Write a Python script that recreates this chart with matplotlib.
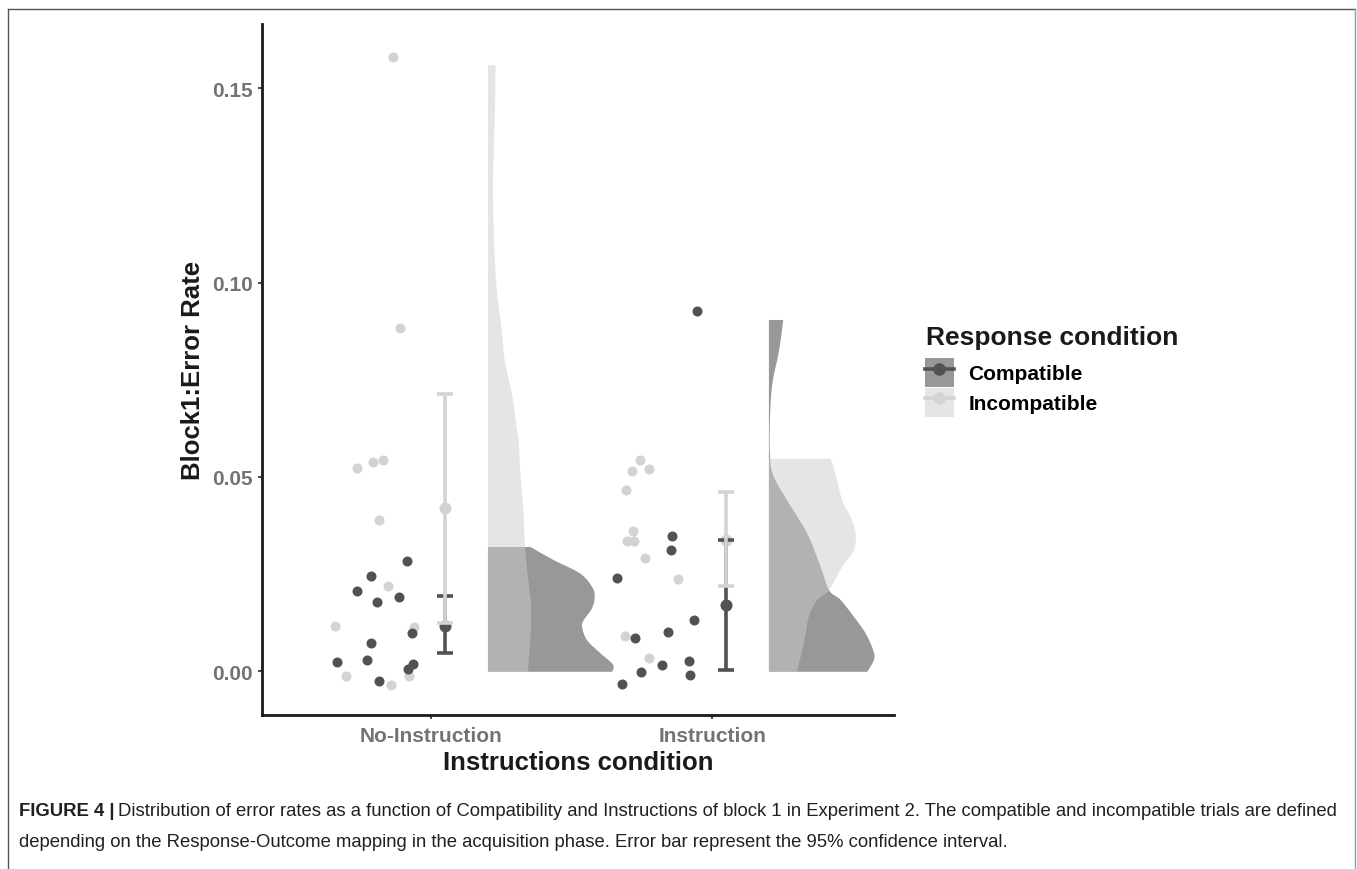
import numpy as np
import matplotlib
matplotlib.use('Agg')
import matplotlib.pyplot as plt
from matplotlib.patches import Patch
from matplotlib.lines import Line2D

plt.rcParams['font.family'] = ['Liberation Sans', 'DejaVu Sans']

# ---- datos ----
categories = ['No-Instruction', 'Instruction']
groups = ['Compatible', 'Incompatible']

# puntos individuales (tasa de error) y su jitter horizontal (unidades de categoria)
ni_comp_y = [0.0283, 0.0244, 0.0207, 0.0179, 0.0191, 0.0099, 0.0073, 0.0025, 0.0028, 0.0020, 0.0005, -0.0026]
ni_comp_dx = [-0.085, -0.214, -0.264, -0.192, -0.114, -0.069, -0.214, -0.337, -0.228, -0.064, -0.083, -0.185]
ni_inc_y = [0.158, 0.0884, 0.0523, 0.0539, 0.0544, 0.039, 0.022, 0.0117, 0.0113, -0.0011, -0.0034, -0.0013]
ni_inc_dx = [-0.137, -0.111, -0.263, -0.206, -0.172, -0.186, -0.153, -0.342, -0.060, -0.305, -0.142, -0.078]
in_comp_y = [0.0927, 0.0347, 0.0313, 0.0239, 0.0132, 0.0101, 0.0086, 0.0027, 0.0015, -0.0003, -0.0009, -0.0033]
in_comp_dx = [-0.053, -0.142, -0.147, -0.338, -0.065, -0.159, -0.276, -0.083, -0.178, -0.254, -0.080, -0.320]
in_inc_y = [0.0543, 0.0515, 0.0521, 0.0467, 0.0362, 0.0336, 0.0336, 0.0292, 0.0237, 0.0092, 0.0033]
in_inc_dx = [-0.256, -0.287, -0.226, -0.307, -0.281, -0.305, -0.279, -0.240, -0.123, -0.310, -0.226]

# medias e intervalos de confianza 95%
comp_mean = [0.0116, 0.0171]
comp_lo = [0.0047, 0.0003]
comp_hi = [0.0193, 0.0337]
inc_mean = [0.0420, 0.0338]
inc_lo = [0.0123, 0.0219]
inc_hi = [0.0714, 0.0460]

# perfiles de densidad (half violin): nivel de error y ancho
ni_comp_vy = [0, 0.0009, 0.0022, 0.0048, 0.0082, 0.0116, 0.0133, 0.0163, 0.0193, 0.0219, 0.0253, 0.0287, 0.0321]
ni_comp_vw = [0.441, 0.447, 0.441, 0.400, 0.352, 0.335, 0.341, 0.370, 0.380, 0.370, 0.328, 0.235, 0.151]
ni_inc_vy = [0, 0.0067, 0.0116, 0.018, 0.0202, 0.032, 0.041, 0.0459, 0.0526, 0.0587, 0.064, 0.0715,
             0.08, 0.087, 0.098, 0.105, 0.115, 0.125, 0.135, 0.145, 0.156]
ni_inc_vw = [0.142, 0.149, 0.153, 0.153, 0.149, 0.132, 0.127, 0.121, 0.114, 0.110, 0.100, 0.085,
             0.060, 0.050, 0.032, 0.025, 0.020, 0.018, 0.021, 0.025, 0.027]
in_comp_vy = [0, 0.0031, 0.0056, 0.0099, 0.0142, 0.0185, 0.021, 0.027, 0.0356, 0.0441, 0.0501, 0.0552,
              0.0655, 0.074, 0.0826, 0.0905]
in_comp_vw = [0.350, 0.374, 0.371, 0.344, 0.302, 0.255, 0.214, 0.184, 0.136, 0.065, 0.018, 0.004,
              0.004, 0.012, 0.036, 0.051]
in_inc_vy = [0, 0.0056, 0.0099, 0.0142, 0.0185, 0.021, 0.027, 0.0313, 0.0356, 0.0398, 0.0441, 0.0509, 0.0548]
in_inc_vw = [0.099, 0.119, 0.131, 0.142, 0.172, 0.214, 0.261, 0.302, 0.309, 0.291, 0.261, 0.237, 0.220]

caption_bold = 'FIGURE 4 |'
caption_1 = ('Distribution of error rates as a function of Compatibility and Instructions of block 1 in '
             'Experiment 2. The compatible and incompatible trials are defined')
caption_2 = ('depending on the Response-Outcome mapping in the acquisition phase. Error bar represent the '
             '95% confidence interval.')

# colores
dark = '#525252'
light = '#d3d3d3'
fill_dark = '#333333'
fill_light = '#cdcdcd'


def smooth(y, w):
    # curva suave (Catmull-Rom) entre los puntos leidos
    pts = np.column_stack([np.asarray(y, float), np.asarray(w, float)])
    p = np.vstack([pts[0], pts, pts[-1]])
    out = []
    t = np.linspace(0, 1, 20, endpoint=False)[:, None]
    for i in range(1, len(p) - 2):
        p0, p1, p2, p3 = p[i - 1], p[i], p[i + 1], p[i + 2]
        seg = 0.5 * ((2 * p1) + (-p0 + p2) * t + (2 * p0 - 5 * p1 + 4 * p2 - p3) * t ** 2
                     + (-p0 + 3 * p1 - 3 * p2 + p3) * t ** 3)
        out.append(seg)
    out.append(pts[-1][None, :])
    out = np.vstack(out)
    return out[:, 0], np.clip(out[:, 1], 0, None)


W, H = 1357, 870
fig = plt.figure(figsize=(W / 100, H / 100), dpi=100)
ax = fig.add_axes([262 / W, 1 - 716 / H, (894 - 262) / W, (716 - 25) / H])

pos = np.arange(1, len(categories) + 1)

# violines (mitad derecha)
violins = [
    (ni_comp_vy, ni_comp_vw, ni_inc_vy, ni_inc_vw),
    (in_comp_vy, in_comp_vw, in_inc_vy, in_inc_vw),
]
for p, (cy, cw, iy, iw) in zip(pos, violins):
    x0 = p + 0.2
    yy, ww = smooth(cy, cw)
    ax.fill_betweenx(yy, x0, x0 + ww, color=fill_dark, alpha=0.5, lw=0, zorder=1)
    yy, ww = smooth(iy, iw)
    ax.fill_betweenx(yy, x0, x0 + ww, color=fill_light, alpha=0.5, lw=0, zorder=2)

# puntos individuales
ax.scatter(pos[0] + np.array(ni_inc_dx), ni_inc_y, s=52, color=light, lw=0, zorder=3)
ax.scatter(pos[1] + np.array(in_inc_dx), in_inc_y, s=52, color=light, lw=0, zorder=3)
ax.scatter(pos[0] + np.array(ni_comp_dx), ni_comp_y, s=52, color=dark, lw=0, zorder=3)
ax.scatter(pos[1] + np.array(in_comp_dx), in_comp_y, s=52, color=dark, lw=0, zorder=3)

# medias + IC
xe = pos + 0.05
ax.scatter(xe, comp_mean, s=75, color=dark, lw=0, zorder=4)
ax.scatter(xe, inc_mean, s=75, color=light, lw=0, zorder=4)
cm = np.array(comp_mean)
im = np.array(inc_mean)
ax.errorbar(xe, cm, yerr=[cm - np.array(comp_lo), np.array(comp_hi) - cm], fmt='none',
            ecolor=dark, elinewidth=2.6, capsize=5.6, capthick=2.6, zorder=5)
ax.errorbar(xe, im, yerr=[im - np.array(inc_lo), np.array(inc_hi) - im], fmt='none',
            ecolor=light, elinewidth=2.6, capsize=5.6, capthick=2.6, zorder=6)

# ejes
ax.set_xlim(0.3975, 2.647)
ax.set_ylim(-0.01124, 0.1665)
ax.set_xticks(pos)
ax.set_xticklabels(categories)
ax.set_yticks([0, 0.05, 0.10, 0.15])
ax.set_yticklabels(['0.00', '0.05', '0.10', '0.15'])
ax.spines['top'].set_visible(False)
ax.spines['right'].set_visible(False)
for s in ['left', 'bottom']:
    ax.spines[s].set_linewidth(2)
    ax.spines[s].set_color('#1a1a1a')
ax.tick_params(length=3.2, width=1.5, color='#4d4d4d', labelsize=15, labelcolor='#737373')
ax.tick_params(axis='y', pad=3.4)
ax.tick_params(axis='x', pad=4.5)
for lab in ax.get_xticklabels() + ax.get_yticklabels():
    lab.set_fontweight('bold')

ax.set_ylabel('Block1:Error Rate', fontsize=18.5, fontweight='bold', color='#1a1a1a', va='center')
ax.yaxis.set_label_coords((193 - 262) / 632, 0.5)
ax.set_xlabel('Instructions condition', fontsize=18.5, fontweight='bold', color='#1a1a1a', va='center')
ax.xaxis.set_label_coords(0.5, (716 - 763) / 691)

# leyenda
fig.text(926 / W, 1 - 345 / H, 'Response condition', fontsize=19, fontweight='bold',
         color='#1a1a1a', va='baseline', ha='left')
h_comp = (Patch(facecolor=fill_dark, alpha=0.5, edgecolor='none'),
          Line2D([], [], color=dark, lw=2.6, marker='o', markersize=8))
h_inc = (Patch(facecolor=fill_light, alpha=0.5, edgecolor='none'),
         Line2D([], [], color=light, lw=2.6, marker='o', markersize=8))
ax.legend([h_comp, h_inc], groups, loc='upper left',
          bbox_to_anchor=(925 / W, 1 - 359 / H), bbox_transform=fig.transFigure,
          frameon=False, borderpad=0, borderaxespad=0, handlelength=1.39, handleheight=1.75,
          handletextpad=0.7, labelspacing=0.05, prop={'weight': 'bold', 'size': 15})

# marco de la figura
fig.add_artist(Line2D([7.5 / W, 7.5 / W], [0, 1 - 9.7 / H], transform=fig.transFigure,
                      color='#555555', lw=1))
fig.add_artist(Line2D([7.5 / W, 1355 / W], [1 - 9.7 / H, 1 - 9.7 / H],
                      transform=fig.transFigure, color='#555555', lw=1))
fig.add_artist(Line2D([1355 / W, 1355 / W], [0, 1 - 9.7 / H], transform=fig.transFigure,
                      color='#999999', lw=1))

# pie de figura
cap_size = 13.3
tb = fig.text(19 / W, 1 - 812 / H, caption_bold, fontsize=cap_size, fontweight='bold',
              color='#231f20', va='center')
fig.canvas.draw()
r = fig.canvas.get_renderer()
bb = tb.get_window_extent(r)
fig.text((bb.x1 + 4) / W, 1 - 812 / H, caption_1, fontsize=cap_size, color='#231f20', va='center')
fig.text(19 / W, 1 - 843 / H, caption_2, fontsize=cap_size, color='#231f20', va='center')

fig.savefig('out.png', dpi=100)
